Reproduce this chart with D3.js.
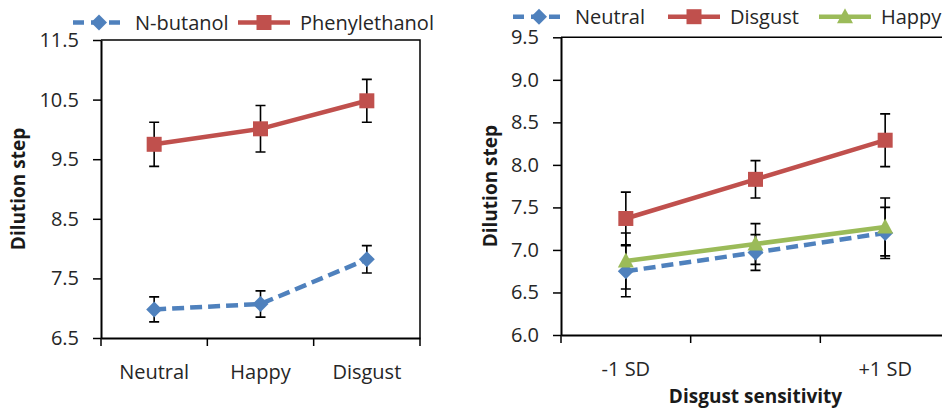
<!DOCTYPE html>
<html><head><meta charset="utf-8">
<script src="https://cdn.jsdelivr.net/npm/d3@7"></script>
<style>
body{margin:0;background:#fff;}
svg text{font-family:"Open Sans","Noto Sans",sans-serif;fill:#262626;}
</style></head>
<body><svg id="c" width="942" height="410"></svg>
<script>
// ---- Left panel data ----
const leftCategories = ["Neutral", "Happy", "Disgust"];
const leftYTicks = [6.5, 7.5, 8.5, 9.5, 10.5, 11.5];
const butanolMean = [6.98, 7.07, 7.82];
const butanolErr  = [0.21, 0.22, 0.23];
const phenylMean  = [9.75, 10.01, 10.48];
const phenylErr   = [0.37, 0.39, 0.36];
const leftSeriesNames = ["N-butanol", "Phenylethanol"];

// ---- Right panel data ----
const rightCategories = ["-1 SD", "", "+1 SD"];
const rightYTicks = [6.0, 6.5, 7.0, 7.5, 8.0, 8.5, 9.0, 9.5];
const neutralMean = [6.75, 6.97, 7.20];
const neutralErr  = [0.30, 0.21, 0.30];
const disgustMean = [7.37, 7.83, 8.29];
const disgustErr  = [0.31, 0.22, 0.31];
const happyMean   = [6.87, 7.07, 7.27];
const happyErr    = [0.33, 0.24, 0.34];
const rightSeriesNames = ["Neutral", "Disgust", "Happy"];

const BLUE="#4F81BD", RED="#C0504D", GREEN="#9BBB59";
const svg = d3.select("#c");

function markerPath(type){
  if(type==="diamond") return "M0,-8L8,0L0,8L-8,0Z";
  if(type==="square") return "M-7.5,-7.5H7.5V7.5H-7.5Z";
  return "M0,-8.5L8,6.5H-8Z";
}

function panel(o){
  const g = svg.append("g");
  const x = d3.scaleBand().domain(d3.range(o.cats.length)).range([o.x0,o.x1]);
  const y = d3.scaleLinear().domain([o.ticks[0], o.ticks[o.ticks.length-1]]).range([o.y1,o.y0]);
  const cx = i => x(i) + x.bandwidth()/2;

  // border (top, right)
  g.append("path").attr("d",`M${o.x0},${o.y0}H${o.x1}V${o.y1}`).attr("fill","none").attr("stroke","#000").attr("stroke-width",1.5);

  // y axis
  const ya = g.append("g").attr("transform",`translate(${o.x0},0)`)
    .call(d3.axisLeft(y).tickValues(o.ticks).tickFormat(d3.format(".1f")).tickSize(8).tickSizeOuter(0).tickPadding(14));
  ya.select(".domain").attr("stroke","#000").attr("stroke-width",2);
  ya.selectAll(".tick line").attr("stroke","#000").attr("stroke-width",1.5);
  ya.selectAll("text").attr("font-size",20).style("fill","#262626");

  // x axis
  const xa = g.append("g").attr("transform",`translate(0,${o.y1})`)
    .call(d3.axisBottom(x).tickFormat(i=>o.cats[i]).tickSize(0).tickSizeOuter(0).tickPadding(27));
  xa.select(".domain").attr("stroke","#000").attr("stroke-width",2);
  xa.selectAll("text").attr("font-size",20).style("fill","#262626");
  const bounds = d3.range(o.cats.length).map(i=>x(i)).concat([o.x1]);
  g.selectAll(".xt").data(bounds).join("line")
    .attr("x1",d=>d).attr("x2",d=>d).attr("y1",o.y1).attr("y2",o.y1+8)
    .attr("stroke","#000").attr("stroke-width",1.5);

  // y title
  g.append("text").attr("transform",`translate(${o.ytx},${(o.y0+o.y1)/2}) rotate(-90)`)
    .attr("text-anchor","middle").attr("dy","0.35em").attr("font-size",19).attr("font-weight","bold")
    .style("fill","#1a1a1a").text("Dilution step");

  const line = d3.line().x((d,i)=>cx(i)).y(d=>y(d));
  // error bars
  o.series.forEach(s=>{
    s.mean.forEach((m,i)=>{
      const X=cx(i), t=y(m+s.err[i]), b=y(m-s.err[i]);
      g.append("path").attr("d",`M${X},${t}V${b}M${X-5},${t}H${X+5}M${X-5},${b}H${X+5}`)
        .attr("stroke","#000").attr("stroke-width",1.6).attr("fill","none");
    });
  });
  o.series.forEach(s=>{
    g.append("path").datum(s.mean).attr("d",line).attr("fill","none")
      .attr("stroke",s.color).attr("stroke-width",4.5)
      .attr("stroke-dasharray",s.dash?"12,6":null);
    g.selectAll(null).data(s.mean).join("path")
      .attr("transform",(d,i)=>`translate(${cx(i)},${y(d)})`)
      .attr("d",markerPath(s.marker)).attr("fill",s.color);
  });

  // legend
  o.series.forEach((s,k)=>{
    const L=o.legend[k], ly=o.ly;
    g.append("line").attr("x1",L[0]).attr("x2",L[0]+52).attr("y1",ly).attr("y2",ly)
      .attr("stroke",s.color).attr("stroke-width",4.5).attr("stroke-dasharray",s.dash?"11,7":null);
    g.append("path").attr("transform",`translate(${L[0]+26},${ly})`).attr("d",markerPath(s.marker)).attr("fill",s.color);
    g.append("text").attr("x",L[0]+62).attr("y",ly).attr("dy","0.36em").attr("font-size",20).text(s.name);
  });
  return {g,x,y};
}

panel({
  cats:leftCategories, ticks:leftYTicks, x0:101, x1:420, y0:40, y1:338, ytx:18, ly:22.5,
  legend:[[73],[238]],
  series:[
    {name:leftSeriesNames[0], mean:butanolMean, err:butanolErr, color:BLUE, dash:true, marker:"diamond"},
    {name:leftSeriesNames[1], mean:phenylMean, err:phenylErr, color:RED, dash:false, marker:"square"}
  ]
});

const rp = panel({
  cats:rightCategories, ticks:rightYTicks, x0:561, x1:950, y0:37.3, y1:335, ytx:490, ly:16.7,
  legend:[[513],[668],[819]],
  series:[
    {name:rightSeriesNames[0], mean:neutralMean, err:neutralErr, color:BLUE, dash:true, marker:"diamond"},
    {name:rightSeriesNames[1], mean:disgustMean, err:disgustErr, color:RED, dash:false, marker:"square"},
    {name:rightSeriesNames[2], mean:happyMean, err:happyErr, color:GREEN, dash:false, marker:"triangle"}
  ]
});
rp.g.append("text").attr("x",(561+950)/2).attr("y",403).attr("text-anchor","middle")
  .attr("font-size",19).attr("font-weight","bold").style("fill","#1a1a1a").text("Disgust sensitivity");
</script></body></html>
